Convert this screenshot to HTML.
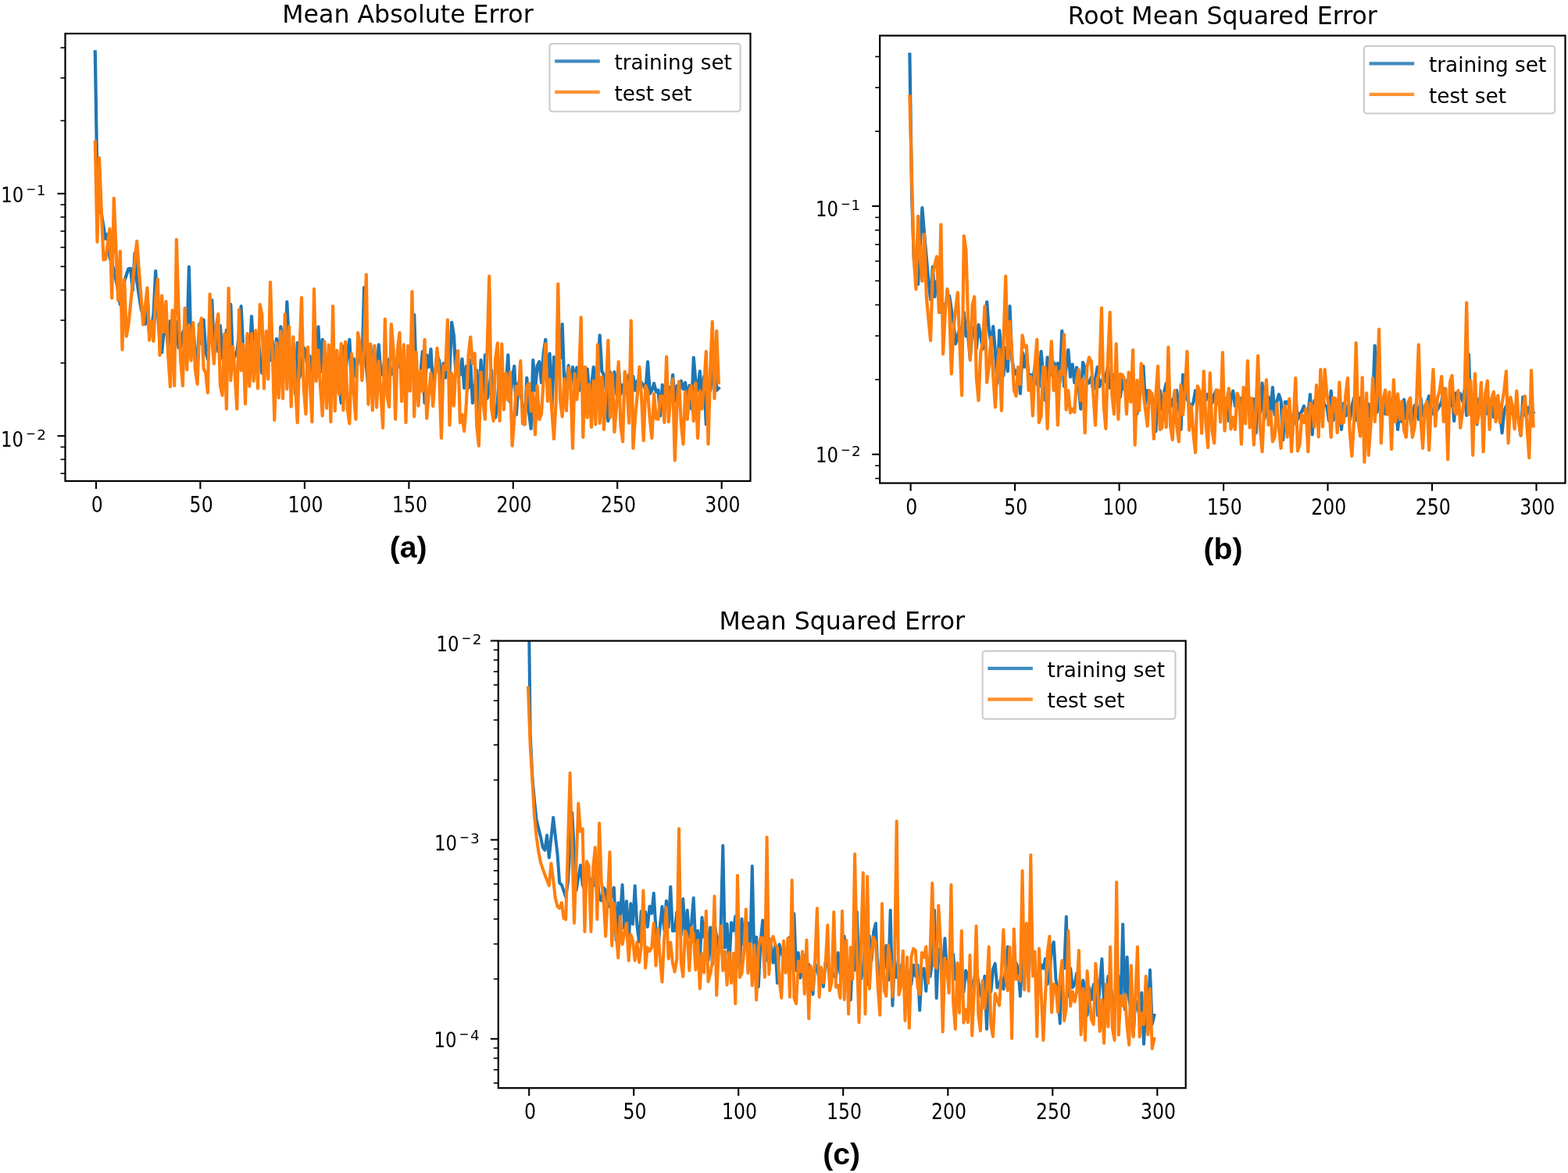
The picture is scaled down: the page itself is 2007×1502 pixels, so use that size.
<!DOCTYPE html>
<html><head><meta charset="utf-8"><title>Training curves</title>
<style>html,body{margin:0;padding:0;background:#fff;} body{width:2007px;height:1502px;overflow:hidden;} svg{display:block;}</style>
</head><body>
<svg width="2007" height="1502" viewBox="0 0 2007 1502">
<rect width="2007" height="1502" fill="#fff"/>
<clipPath id="clipa"><rect x="83.5" y="43.0" width="877.0" height="573.0"/></clipPath>
<g clip-path="url(#clipa)" fill="none" stroke-linejoin="round" stroke-linecap="square" stroke-width="4.2">
<path d="M121.8,66.3 L124.5,236.0 L127.1,262.0 L129.8,273.8 L132.5,290.0 L135.1,305.8 L137.8,300.0 L140.5,330.0 L143.2,337.5 L145.8,345.0 L148.5,358.5 L151.2,372.0 L153.8,390.0 L156.5,380.0 L159.2,360.0 L161.8,352.0 L164.5,344.0 L167.2,343.9 L169.8,372.0 L172.5,324.1 L175.2,360.0 L177.8,377.5 L180.5,395.0 L183.2,405.0 L185.9,415.0 L188.5,375.9 L191.2,430.0 L193.9,420.0 L196.5,402.1 L199.2,347.1 L201.9,400.0 L204.5,436.6 L207.2,451.3 L209.9,420.9 L212.5,418.4 L215.2,445.0 L217.9,411.0 L220.6,442.0 L223.2,440.0 L225.9,412.3 L228.6,445.4 L231.2,445.0 L233.9,426.3 L236.6,420.0 L239.2,439.9 L241.9,341.7 L244.6,451.5 L247.2,420.0 L249.9,450.9 L252.6,468.8 L255.2,414.8 L257.9,440.0 L260.6,409.6 L263.3,450.1 L265.9,460.0 L268.6,415.3 L271.3,384.4 L273.9,451.8 L276.6,419.2 L279.3,450.0 L281.9,417.1 L284.6,455.3 L287.3,470.0 L289.9,422.7 L292.6,441.5 L295.3,389.9 L298.0,461.7 L300.6,455.6 L303.3,450.0 L306.0,428.2 L308.6,392.1 L311.3,446.9 L314.0,486.4 L316.6,430.9 L319.3,463.8 L322.0,405.2 L324.6,451.5 L327.3,460.0 L330.0,429.4 L332.7,454.6 L335.3,477.6 L338.0,465.7 L340.7,437.9 L343.3,440.0 L346.0,461.1 L348.7,436.5 L351.3,470.0 L354.0,433.9 L356.7,473.3 L359.3,418.4 L362.0,435.0 L364.7,479.7 L367.3,386.6 L370.0,441.2 L372.7,460.0 L375.4,448.6 L378.0,503.9 L380.7,438.9 L383.4,483.6 L386.0,470.0 L388.7,445.1 L391.4,450.0 L394.0,476.3 L396.7,456.1 L399.4,480.0 L402.0,461.1 L404.7,483.6 L407.4,418.4 L410.1,476.6 L412.7,434.8 L415.4,459.7 L418.1,484.3 L420.7,480.0 L423.4,452.4 L426.1,484.7 L428.7,470.0 L431.4,458.9 L434.1,491.6 L436.7,516.0 L439.4,443.5 L442.1,480.0 L444.7,452.7 L447.4,434.8 L450.1,492.9 L452.8,459.5 L455.4,482.1 L458.1,460.0 L460.8,443.7 L463.4,468.8 L466.1,368.0 L468.8,465.9 L471.4,498.4 L474.1,440.8 L476.8,470.0 L479.4,453.0 L482.1,472.5 L484.8,441.4 L487.5,479.6 L490.1,480.0 L492.8,456.0 L495.5,481.8 L498.1,460.0 L500.8,479.0 L503.5,473.2 L506.1,490.0 L508.8,455.4 L511.5,470.0 L514.1,453.1 L516.8,480.8 L519.5,480.0 L522.1,462.6 L524.8,489.0 L527.5,470.6 L530.2,403.0 L532.8,484.3 L535.5,505.0 L538.2,480.5 L540.8,450.0 L543.5,516.0 L546.2,454.6 L548.8,470.0 L551.5,447.0 L554.2,494.8 L556.8,480.0 L559.5,455.1 L562.2,461.8 L564.9,490.0 L567.5,465.4 L570.2,483.7 L572.9,460.0 L575.5,477.2 L578.2,412.9 L580.9,429.4 L583.5,478.1 L586.2,467.4 L588.9,480.0 L591.5,459.5 L594.2,496.9 L596.9,468.8 L599.6,496.9 L602.2,461.1 L604.9,516.0 L607.6,496.5 L610.2,474.1 L612.9,528.0 L615.6,461.2 L618.2,518.0 L620.9,454.6 L623.6,510.0 L626.2,500.0 L628.9,473.8 L631.6,515.2 L634.2,534.6 L636.9,513.7 L639.6,472.2 L642.3,480.0 L644.9,509.2 L647.6,492.7 L650.3,454.6 L652.9,514.3 L655.6,483.9 L658.3,468.8 L660.9,530.9 L663.6,490.0 L666.3,500.0 L668.9,521.9 L671.6,543.4 L674.3,483.8 L677.0,527.2 L679.6,548.8 L682.3,461.2 L685.0,500.0 L687.6,468.7 L690.3,463.1 L693.0,490.0 L695.6,452.9 L698.3,434.8 L701.0,492.0 L703.6,452.8 L706.3,523.6 L709.0,457.0 L711.6,480.0 L714.3,463.6 L717.0,458.6 L719.7,415.1 L722.3,491.9 L725.0,490.0 L727.7,468.1 L730.3,494.9 L733.0,470.0 L735.7,487.6 L738.3,470.6 L741.0,500.0 L743.7,460.5 L746.3,488.9 L749.0,480.0 L751.7,472.4 L754.4,504.9 L757.0,495.1 L759.7,470.0 L762.4,497.1 L765.0,473.7 L767.7,429.4 L770.4,475.4 L773.0,480.0 L775.7,498.8 L778.4,539.0 L781.0,476.4 L783.7,490.0 L786.4,476.4 L789.0,504.5 L791.7,470.0 L794.4,504.9 L797.1,493.0 L799.7,498.4 L802.4,488.3 L805.1,480.0 L807.7,493.9 L810.4,482.1 L813.1,500.0 L815.7,487.7 L818.4,486.5 L821.1,490.0 L823.7,493.1 L826.4,499.5 L829.1,463.3 L831.8,504.2 L834.4,500.0 L837.1,491.0 L839.8,501.6 L842.4,499.5 L845.1,532.4 L847.8,492.8 L850.4,507.2 L853.1,500.0 L855.8,495.6 L858.4,509.0 L861.1,480.0 L863.8,513.9 L866.5,494.0 L869.1,500.0 L871.8,487.8 L874.5,498.1 L877.1,490.0 L879.8,510.3 L882.5,493.6 L885.1,523.6 L887.8,457.9 L890.5,489.3 L893.1,500.0 L895.8,475.4 L898.5,509.2 L901.1,482.1 L903.8,543.4 L906.5,486.1 L909.2,500.0 L911.8,473.3 L914.5,442.5 L917.2,499.8 L919.8,497.3" stroke="#1f77b4"/>
<path d="M121.8,182.0 L124.5,309.8 L127.1,202.0 L129.8,270.0 L132.5,332.7 L135.1,331.7 L137.8,312.2 L140.5,292.8 L143.2,381.7 L145.8,253.9 L148.5,319.3 L151.2,384.7 L153.8,321.8 L156.5,447.6 L159.2,357.7 L161.8,430.6 L164.5,415.6 L167.2,388.9 L169.8,362.2 L172.5,335.5 L175.2,308.8 L177.8,344.4 L180.5,380.0 L183.2,415.6 L185.9,392.1 L188.5,368.7 L191.2,435.6 L193.9,411.6 L196.5,437.0 L199.2,383.4 L201.9,357.7 L204.5,455.0 L207.2,378.5 L209.9,425.2 L212.5,386.2 L215.2,454.8 L217.9,495.1 L220.6,397.4 L223.2,494.0 L225.9,306.8 L228.6,399.4 L231.2,461.7 L233.9,494.0 L236.6,394.7 L239.2,473.5 L241.9,416.2 L244.6,461.7 L247.2,413.0 L249.9,473.0 L252.6,491.8 L255.2,420.3 L257.9,407.4 L260.6,472.1 L263.3,477.7 L265.9,502.8 L268.6,376.7 L271.3,436.7 L273.9,465.7 L276.6,418.6 L279.3,402.0 L281.9,493.9 L284.6,506.2 L287.3,427.7 L289.9,523.6 L292.6,369.1 L295.3,487.2 L298.0,443.9 L300.6,477.0 L303.3,523.6 L306.0,396.5 L308.6,474.3 L311.3,440.8 L314.0,517.1 L316.6,427.1 L319.3,494.7 L322.0,427.3 L324.6,487.8 L327.3,423.2 L330.0,497.3 L332.7,389.9 L335.3,402.7 L338.0,497.4 L340.7,424.0 L343.3,485.5 L346.0,361.4 L348.7,448.9 L351.3,537.9 L354.0,439.1 L356.7,509.4 L359.3,424.0 L362.0,510.5 L364.7,402.0 L367.3,498.1 L370.0,418.0 L372.7,520.6 L375.4,431.3 L378.0,493.2 L380.7,541.2 L383.4,452.5 L386.0,381.1 L388.7,495.8 L391.4,530.2 L394.0,444.5 L396.7,487.6 L399.4,540.1 L402.0,370.2 L404.7,488.2 L407.4,448.4 L410.1,495.6 L412.7,532.4 L415.4,437.5 L418.1,522.6 L420.7,441.6 L423.4,540.1 L426.1,392.1 L428.7,526.2 L431.4,448.6 L434.1,505.0 L436.7,440.0 L439.4,525.3 L442.1,437.7 L444.7,523.9 L447.4,542.3 L450.1,453.0 L452.8,503.0 L455.4,536.8 L458.1,426.1 L460.8,441.7 L463.4,487.2 L466.1,446.3 L468.8,351.5 L471.4,517.8 L474.1,440.7 L476.8,525.5 L479.4,442.6 L482.1,521.7 L484.8,462.6 L487.5,504.0 L490.1,547.8 L492.8,408.5 L495.5,508.2 L498.1,521.2 L500.8,415.1 L503.5,446.6 L506.1,536.8 L508.8,448.4 L511.5,426.0 L514.1,513.9 L516.8,441.4 L519.5,541.2 L522.1,442.5 L524.8,500.7 L527.5,373.4 L530.2,533.5 L532.8,451.1 L535.5,519.6 L538.2,474.6 L540.8,501.2 L543.5,434.8 L546.2,535.7 L548.8,504.2 L551.5,477.5 L554.2,520.1 L556.8,482.8 L559.5,445.8 L562.2,480.5 L564.9,561.0 L567.5,468.6 L570.2,473.3 L572.9,409.6 L575.5,544.5 L578.2,478.2 L580.9,519.5 L583.5,468.1 L586.2,449.1 L588.9,541.3 L591.5,530.9 L594.2,552.1 L596.9,516.6 L599.6,455.2 L602.2,431.5 L604.9,465.3 L607.6,452.4 L610.2,545.2 L612.9,570.8 L615.6,476.5 L618.2,514.5 L620.9,536.8 L623.6,447.8 L626.2,353.7 L628.9,520.9 L631.6,539.0 L634.2,459.1 L636.9,439.4 L639.6,539.0 L642.3,440.3 L644.9,524.6 L647.6,478.0 L650.3,512.3 L652.9,476.6 L655.6,570.8 L658.3,535.6 L660.9,494.7 L663.6,504.8 L666.3,462.2 L668.9,542.4 L671.6,543.4 L674.3,495.3 L677.0,490.7 L679.6,526.5 L682.3,503.1 L685.0,556.5 L687.6,494.0 L690.3,537.2 L693.0,530.2 L695.6,488.2 L698.3,440.3 L701.0,513.6 L703.6,486.0 L706.3,525.3 L709.0,562.0 L711.6,515.0 L714.3,363.6 L717.0,511.6 L719.7,533.5 L722.3,484.9 L725.0,526.0 L727.7,471.0 L730.3,486.1 L733.0,574.0 L735.7,478.7 L738.3,511.7 L741.0,483.5 L743.7,406.3 L746.3,559.8 L749.0,469.9 L751.7,534.6 L754.4,492.0 L757.0,546.8 L759.7,487.9 L762.4,543.4 L765.0,441.4 L767.7,542.0 L770.4,482.5 L773.0,550.0 L775.7,498.9 L778.4,435.9 L781.0,534.7 L783.7,479.3 L786.4,553.2 L789.0,522.0 L791.7,463.3 L794.4,544.2 L797.1,565.3 L799.7,475.9 L802.4,492.0 L805.1,541.7 L807.7,410.7 L810.4,574.0 L813.1,533.9 L815.7,506.5 L818.4,469.9 L821.1,508.9 L823.7,564.2 L826.4,494.2 L829.1,501.7 L831.8,536.6 L834.4,561.0 L837.1,504.4 L839.8,536.1 L842.4,536.8 L845.1,507.1 L847.8,507.4 L850.4,540.9 L853.1,456.8 L855.8,540.1 L858.4,505.6 L861.1,485.3 L863.8,589.4 L866.5,516.4 L869.1,488.6 L871.8,542.1 L874.5,568.6 L877.1,501.6 L879.8,536.9 L882.5,499.1 L885.1,494.0 L887.8,539.1 L890.5,490.6 L893.1,561.0 L895.8,500.7 L898.5,523.6 L901.1,495.8 L903.8,450.2 L906.5,568.6 L909.2,472.4 L911.8,411.8 L914.5,510.5 L917.2,423.9 L919.8,490.0" stroke="#ff7f0e"/>
</g>
<rect x="83.5" y="43.0" width="877.0" height="573.0" fill="none" stroke="#000" stroke-width="2.2" stroke-linejoin="miter"/>
<line x1="123.0" y1="616.0" x2="123.0" y2="626.0" stroke="#000" stroke-width="2.1"/>
<text transform="translate(124.20,656.20) scale(0.86,1)" x="0" y="0" font-family="'DejaVu Sans', 'Liberation Sans', sans-serif" font-size="27.5" text-anchor="middle">0</text>
<line x1="256.4" y1="616.0" x2="256.4" y2="626.0" stroke="#000" stroke-width="2.1"/>
<text transform="translate(257.65,656.20) scale(0.86,1)" x="0" y="0" font-family="'DejaVu Sans', 'Liberation Sans', sans-serif" font-size="27.5" text-anchor="middle">50</text>
<line x1="389.9" y1="616.0" x2="389.9" y2="626.0" stroke="#000" stroke-width="2.1"/>
<text transform="translate(391.10,656.20) scale(0.86,1)" x="0" y="0" font-family="'DejaVu Sans', 'Liberation Sans', sans-serif" font-size="27.5" text-anchor="middle">100</text>
<line x1="523.4" y1="616.0" x2="523.4" y2="626.0" stroke="#000" stroke-width="2.1"/>
<text transform="translate(524.55,656.20) scale(0.86,1)" x="0" y="0" font-family="'DejaVu Sans', 'Liberation Sans', sans-serif" font-size="27.5" text-anchor="middle">150</text>
<line x1="656.8" y1="616.0" x2="656.8" y2="626.0" stroke="#000" stroke-width="2.1"/>
<text transform="translate(658.00,656.20) scale(0.86,1)" x="0" y="0" font-family="'DejaVu Sans', 'Liberation Sans', sans-serif" font-size="27.5" text-anchor="middle">200</text>
<line x1="790.2" y1="616.0" x2="790.2" y2="626.0" stroke="#000" stroke-width="2.1"/>
<text transform="translate(791.45,656.20) scale(0.86,1)" x="0" y="0" font-family="'DejaVu Sans', 'Liberation Sans', sans-serif" font-size="27.5" text-anchor="middle">250</text>
<line x1="923.7" y1="616.0" x2="923.7" y2="626.0" stroke="#000" stroke-width="2.1"/>
<text transform="translate(924.90,656.20) scale(0.86,1)" x="0" y="0" font-family="'DejaVu Sans', 'Liberation Sans', sans-serif" font-size="27.5" text-anchor="middle">300</text>
<line x1="83.5" y1="606.3" x2="77.5" y2="606.3" stroke="#000" stroke-width="1.6"/>
<line x1="83.5" y1="588.3" x2="77.5" y2="588.3" stroke="#000" stroke-width="1.6"/>
<line x1="83.5" y1="572.4" x2="77.5" y2="572.4" stroke="#000" stroke-width="1.6"/>
<line x1="83.5" y1="558.2" x2="73.5" y2="558.2" stroke="#000" stroke-width="2.1"/>
<text transform="translate(1.10,571.70) scale(0.868,1)" x="0" y="0" font-family="'DejaVu Sans', 'Liberation Sans', sans-serif" font-size="26.3">10</text>
<text transform="translate(33.10,561.20) scale(0.87,1)" x="0" y="0" font-family="'DejaVu Sans', 'Liberation Sans', sans-serif" font-size="17.5">−</text>
<text transform="translate(47.26,562.90) scale(1.05,1)" x="0" y="0" font-family="'DejaVu Sans', 'Liberation Sans', sans-serif" font-size="17.5">2</text>
<line x1="83.5" y1="464.8" x2="77.5" y2="464.8" stroke="#000" stroke-width="1.6"/>
<line x1="83.5" y1="410.1" x2="77.5" y2="410.1" stroke="#000" stroke-width="1.6"/>
<line x1="83.5" y1="371.4" x2="77.5" y2="371.4" stroke="#000" stroke-width="1.6"/>
<line x1="83.5" y1="341.3" x2="77.5" y2="341.3" stroke="#000" stroke-width="1.6"/>
<line x1="83.5" y1="316.7" x2="77.5" y2="316.7" stroke="#000" stroke-width="1.6"/>
<line x1="83.5" y1="296.0" x2="77.5" y2="296.0" stroke="#000" stroke-width="1.6"/>
<line x1="83.5" y1="278.0" x2="77.5" y2="278.0" stroke="#000" stroke-width="1.6"/>
<line x1="83.5" y1="262.1" x2="77.5" y2="262.1" stroke="#000" stroke-width="1.6"/>
<line x1="83.5" y1="247.9" x2="73.5" y2="247.9" stroke="#000" stroke-width="2.1"/>
<text transform="translate(1.20,258.80) scale(0.868,1)" x="0" y="0" font-family="'DejaVu Sans', 'Liberation Sans', sans-serif" font-size="26.3">10</text>
<text transform="translate(33.20,248.30) scale(0.87,1)" x="0" y="0" font-family="'DejaVu Sans', 'Liberation Sans', sans-serif" font-size="17.5">−</text>
<text transform="translate(46.68,250.00) scale(1.05,1)" x="0" y="0" font-family="'DejaVu Sans', 'Liberation Sans', sans-serif" font-size="17.5">1</text>
<line x1="83.5" y1="154.5" x2="77.5" y2="154.5" stroke="#000" stroke-width="1.6"/>
<line x1="83.5" y1="99.8" x2="77.5" y2="99.8" stroke="#000" stroke-width="1.6"/>
<line x1="83.5" y1="61.1" x2="77.5" y2="61.1" stroke="#000" stroke-width="1.6"/>
<text x="522.0" y="28.7" font-family="'DejaVu Sans', 'Liberation Sans', sans-serif" font-size="31.6" text-anchor="middle">Mean Absolute Error</text>
<rect x="703.5" y="56" width="244.1" height="86.8" rx="3.5" fill="#fff" fill-opacity="0.8" stroke="#ccc" stroke-width="2.1"/>
<line x1="710.2" y1="78.3" x2="767.8" y2="78.3" stroke="#1f77b4" stroke-width="4.3" stroke-opacity="0.85"/>
<text x="786.5" y="89.0" font-family="'DejaVu Sans', 'Liberation Sans', sans-serif" font-size="26.3">training set</text>
<line x1="710.2" y1="117.9" x2="767.8" y2="117.9" stroke="#ff7f0e" stroke-width="4.3" stroke-opacity="0.85"/>
<text x="786.5" y="128.6" font-family="'DejaVu Sans', 'Liberation Sans', sans-serif" font-size="26.3">test set</text>
<text x="522.6" y="713.5" font-family="'Liberation Sans', Arial, sans-serif" font-weight="bold" font-size="39.2" text-anchor="middle">(a)</text>
<clipPath id="clipb"><rect x="1126.2" y="45.6" width="877.3" height="573.0"/></clipPath>
<g clip-path="url(#clipb)" fill="none" stroke-linejoin="round" stroke-linecap="square" stroke-width="4.2">
<path d="M1164.4,69.6 L1167.1,250.0 L1169.7,330.0 L1172.4,355.0 L1175.1,364.0 L1177.7,315.1 L1180.4,266.1 L1183.1,300.0 L1185.8,330.0 L1188.4,360.0 L1191.1,383.5 L1193.8,341.7 L1196.4,380.0 L1199.1,360.0 L1201.8,380.0 L1204.4,400.0 L1207.1,395.0 L1209.8,390.0 L1212.5,384.4 L1215.1,378.9 L1217.8,396.4 L1220.5,414.0 L1223.1,440.3 L1225.8,430.1 L1228.5,420.0 L1231.1,423.0 L1233.8,400.0 L1236.5,430.4 L1239.2,430.0 L1241.8,460.0 L1244.5,419.4 L1247.2,420.0 L1249.8,446.6 L1252.5,415.9 L1255.2,430.0 L1257.8,446.8 L1260.5,426.9 L1263.2,386.6 L1265.8,422.9 L1268.5,440.0 L1271.2,418.0 L1273.9,450.1 L1276.5,490.7 L1279.2,423.0 L1281.9,450.0 L1284.5,480.8 L1287.2,445.4 L1289.9,475.3 L1292.5,392.1 L1295.2,460.0 L1297.9,474.1 L1300.6,479.3 L1303.2,471.0 L1305.9,503.9 L1308.6,450.9 L1311.2,470.0 L1313.9,451.3 L1316.6,481.3 L1319.2,480.0 L1321.9,487.2 L1324.6,470.0 L1327.3,491.6 L1329.9,495.2 L1332.6,450.2 L1335.3,480.3 L1337.9,512.7 L1340.6,457.5 L1343.3,472.5 L1345.9,480.0 L1348.6,464.0 L1351.3,470.0 L1353.9,465.1 L1356.6,489.5 L1359.3,423.9 L1362.0,494.7 L1364.6,470.0 L1367.3,448.0 L1370.0,482.7 L1372.6,466.5 L1375.3,490.0 L1378.0,470.6 L1380.6,493.4 L1383.3,523.6 L1386.0,464.1 L1388.7,471.0 L1391.3,491.3 L1394.0,490.0 L1396.7,483.2 L1399.3,500.0 L1402.0,485.5 L1404.7,470.0 L1407.3,495.1 L1410.0,487.5 L1412.7,490.0 L1415.4,481.2 L1418.0,470.0 L1420.7,496.6 L1423.4,484.4 L1426.0,480.0 L1428.7,498.0 L1431.4,488.1 L1434.0,508.3 L1436.7,485.3 L1439.4,499.0 L1442.0,487.7 L1444.7,500.0 L1447.4,493.1 L1450.1,490.0 L1452.7,509.5 L1455.4,530.2 L1458.1,490.0 L1460.7,491.3 L1463.4,468.8 L1466.1,516.9 L1468.7,500.0 L1471.4,515.9 L1474.1,503.9 L1476.8,525.4 L1479.4,552.1 L1482.1,498.5 L1484.8,500.0 L1487.4,524.8 L1490.1,501.9 L1492.8,490.7 L1495.4,527.3 L1498.1,511.3 L1500.8,520.0 L1503.5,502.6 L1506.1,500.0 L1508.8,519.0 L1511.5,550.0 L1514.1,479.8 L1516.8,502.2 L1519.5,510.0 L1522.1,517.2 L1524.8,521.4 L1527.5,515.2 L1530.1,500.0 L1532.8,506.3 L1535.5,512.7 L1538.2,504.2 L1540.8,500.0 L1543.5,512.3 L1546.2,504.6 L1548.8,510.0 L1551.5,516.1 L1554.2,505.2 L1556.8,500.0 L1559.5,517.0 L1562.2,506.7 L1564.9,510.0 L1567.5,519.6 L1570.2,509.7 L1572.9,539.0 L1575.5,509.1 L1578.2,500.6 L1580.9,520.0 L1583.5,518.0 L1586.2,518.0 L1588.9,510.0 L1591.6,526.1 L1594.2,516.3 L1596.9,520.0 L1599.6,510.5 L1602.2,521.9 L1604.9,511.1 L1607.6,554.3 L1610.2,509.9 L1612.9,528.8 L1615.6,490.7 L1618.2,536.4 L1620.9,520.0 L1623.6,508.2 L1626.3,530.6 L1628.9,496.2 L1631.6,531.1 L1634.3,514.4 L1636.9,505.0 L1639.6,513.4 L1642.3,563.1 L1644.9,514.7 L1647.6,514.5 L1650.3,520.0 L1653.0,543.2 L1655.6,543.7 L1658.3,510.0 L1661.0,537.3 L1663.6,530.0 L1666.3,527.0 L1669.0,520.0 L1671.6,529.4 L1674.3,531.2 L1677.0,505.0 L1679.7,556.5 L1682.3,513.2 L1685.0,520.0 L1687.7,527.1 L1690.3,516.5 L1693.0,510.0 L1695.7,519.3 L1698.3,520.0 L1701.0,538.6 L1703.7,500.6 L1706.3,538.4 L1709.0,530.0 L1711.7,527.6 L1714.4,519.1 L1717.0,550.0 L1719.7,516.5 L1722.4,532.5 L1725.0,520.0 L1727.7,537.9 L1730.4,520.2 L1733.0,510.0 L1735.7,537.8 L1738.4,530.0 L1741.1,509.8 L1743.7,507.2 L1746.4,531.7 L1749.1,566.4 L1751.7,517.3 L1754.4,530.0 L1757.1,514.9 L1759.7,442.5 L1762.4,527.8 L1765.1,500.0 L1767.8,539.4 L1770.4,509.8 L1773.1,530.0 L1775.8,516.5 L1778.4,520.0 L1781.1,511.7 L1783.8,540.0 L1786.4,514.0 L1789.1,550.0 L1791.8,522.9 L1794.4,540.2 L1797.1,511.6 L1799.8,536.1 L1802.5,520.7 L1805.1,533.9 L1807.8,552.1 L1810.5,519.3 L1813.1,520.0 L1815.8,537.0 L1818.5,510.0 L1821.1,531.8 L1823.8,530.0 L1826.5,515.3 L1829.2,507.2 L1831.8,526.7 L1834.5,530.0 L1837.2,513.8 L1839.8,524.7 L1842.5,520.0 L1845.2,514.8 L1847.8,497.3 L1850.5,511.2 L1853.2,522.7 L1855.9,520.0 L1858.5,502.4 L1861.2,539.0 L1863.9,503.1 L1866.5,510.0 L1869.2,504.2 L1871.9,513.8 L1874.5,500.0 L1877.2,531.8 L1879.9,453.5 L1882.5,530.4 L1885.2,510.0 L1887.9,526.3 L1890.6,543.4 L1893.2,510.6 L1895.9,520.0 L1898.6,515.8 L1901.2,511.4 L1903.9,530.0 L1906.6,516.6 L1909.2,520.0 L1911.9,534.2 L1914.6,510.5 L1917.3,534.0 L1919.9,527.7 L1922.6,554.3 L1925.3,525.9 L1927.9,520.0 L1930.6,531.8 L1933.3,530.0 L1935.9,523.6 L1938.6,536.1 L1941.3,520.0 L1944.0,537.3 L1946.6,557.6 L1949.3,508.3 L1952.0,531.8 L1954.6,530.0 L1957.3,521.1 L1960.0,520.0 L1962.6,528.0" stroke="#1f77b4"/>
<path d="M1164.4,123.5 L1167.1,230.0 L1169.7,330.0 L1172.4,370.3 L1175.1,276.9 L1177.7,330.0 L1180.4,360.0 L1183.1,300.0 L1185.8,380.0 L1188.4,408.0 L1191.1,436.0 L1193.8,350.0 L1196.4,339.2 L1199.1,328.5 L1201.8,400.0 L1204.4,287.7 L1207.1,453.5 L1209.8,400.0 L1212.5,370.0 L1215.1,389.9 L1217.8,478.7 L1220.5,420.0 L1223.1,397.2 L1225.8,374.5 L1228.5,440.3 L1231.1,506.1 L1233.8,302.2 L1236.5,320.8 L1239.2,413.0 L1241.8,461.2 L1244.5,391.9 L1247.2,380.0 L1249.8,483.9 L1252.5,512.7 L1255.2,451.3 L1257.8,438.5 L1260.5,392.1 L1263.2,489.8 L1265.8,470.0 L1268.5,431.9 L1271.2,480.3 L1273.9,521.4 L1276.5,470.0 L1279.2,447.0 L1281.9,525.8 L1284.5,437.5 L1287.2,353.7 L1289.9,459.1 L1292.5,411.8 L1295.2,450.6 L1297.9,499.5 L1300.6,507.2 L1303.2,470.0 L1305.9,491.9 L1308.6,429.4 L1311.2,444.5 L1313.9,442.5 L1316.6,500.0 L1319.2,482.4 L1321.9,532.4 L1324.6,467.5 L1327.3,434.8 L1329.9,541.2 L1332.6,533.2 L1335.3,469.9 L1337.9,471.2 L1340.6,548.8 L1343.3,476.5 L1345.9,437.0 L1348.6,500.0 L1351.3,469.9 L1353.9,544.5 L1356.6,475.3 L1359.3,480.0 L1362.0,428.3 L1364.6,524.7 L1367.3,500.0 L1370.0,528.6 L1372.6,523.6 L1375.3,527.9 L1378.0,487.0 L1380.6,473.2 L1383.3,513.1 L1386.0,485.4 L1388.7,554.3 L1391.3,470.8 L1394.0,457.6 L1396.7,462.2 L1399.3,503.7 L1402.0,544.5 L1404.7,484.9 L1407.3,477.4 L1410.0,394.3 L1412.7,518.8 L1415.4,548.8 L1418.0,461.9 L1420.7,399.8 L1423.4,505.6 L1426.0,530.2 L1428.7,440.3 L1431.4,536.8 L1434.0,478.9 L1436.7,480.0 L1439.4,486.5 L1442.0,530.2 L1444.7,476.5 L1447.4,514.6 L1450.1,448.0 L1452.7,569.7 L1455.4,486.8 L1458.1,526.0 L1460.7,465.5 L1463.4,503.4 L1466.1,524.4 L1468.7,545.6 L1471.4,500.0 L1474.1,504.2 L1476.8,562.0 L1479.4,507.5 L1482.1,468.8 L1484.8,550.2 L1487.4,547.8 L1490.1,503.5 L1492.8,547.0 L1495.4,444.7 L1498.1,545.4 L1500.8,563.1 L1503.5,500.0 L1506.1,544.1 L1508.8,565.3 L1511.5,492.9 L1514.1,531.2 L1516.8,498.2 L1519.5,450.2 L1522.1,551.0 L1524.8,520.0 L1527.5,555.9 L1530.1,579.5 L1532.8,494.4 L1535.5,500.0 L1538.2,554.8 L1540.8,475.4 L1543.5,542.1 L1546.2,573.0 L1548.8,477.6 L1551.5,551.8 L1554.2,567.5 L1556.8,499.4 L1559.5,500.0 L1562.2,540.3 L1564.9,451.3 L1567.5,551.5 L1570.2,513.4 L1572.9,497.3 L1575.5,549.4 L1578.2,534.4 L1580.9,550.0 L1583.5,503.6 L1586.2,510.0 L1588.9,568.6 L1591.6,496.1 L1594.2,542.5 L1596.9,462.2 L1599.6,547.6 L1602.2,510.0 L1604.9,569.7 L1607.6,524.4 L1610.2,455.7 L1612.9,548.8 L1615.6,578.4 L1618.2,520.3 L1620.9,486.4 L1623.6,544.2 L1626.3,526.9 L1628.9,565.3 L1631.6,559.7 L1634.3,517.0 L1636.9,548.0 L1639.6,574.0 L1642.3,527.2 L1644.9,520.0 L1647.6,559.7 L1650.3,510.5 L1653.0,578.4 L1655.6,536.8 L1658.3,484.2 L1661.0,577.4 L1663.6,568.9 L1666.3,531.4 L1669.0,541.2 L1671.6,523.5 L1674.3,578.4 L1677.0,516.4 L1679.7,520.0 L1682.3,546.8 L1685.0,493.0 L1687.7,559.5 L1690.3,473.2 L1693.0,546.4 L1695.7,473.2 L1698.3,505.0 L1701.0,520.0 L1703.7,559.8 L1706.3,509.2 L1709.0,510.0 L1711.7,554.2 L1714.4,489.7 L1717.0,541.9 L1719.7,541.2 L1722.4,505.5 L1725.0,484.2 L1727.7,553.3 L1730.4,584.0 L1733.0,539.6 L1735.7,439.2 L1738.4,539.3 L1741.1,558.7 L1743.7,483.4 L1746.4,591.6 L1749.1,503.4 L1751.7,582.8 L1754.4,545.7 L1757.1,484.2 L1759.7,540.0 L1762.4,504.3 L1765.1,421.7 L1767.8,567.5 L1770.4,511.0 L1773.1,499.5 L1775.8,530.9 L1778.4,502.0 L1781.1,575.2 L1783.8,486.4 L1786.4,539.8 L1789.1,504.3 L1791.8,536.8 L1794.4,513.9 L1797.1,550.6 L1799.8,559.8 L1802.5,514.7 L1805.1,509.4 L1807.8,559.9 L1810.5,547.8 L1813.1,512.8 L1815.8,441.4 L1818.5,537.4 L1821.1,574.0 L1823.8,520.0 L1826.5,514.4 L1829.2,576.3 L1831.8,517.0 L1834.5,473.2 L1837.2,545.6 L1839.8,510.1 L1842.5,501.3 L1845.2,482.0 L1847.8,540.0 L1850.5,497.6 L1853.2,588.3 L1855.9,489.8 L1858.5,480.9 L1861.2,525.9 L1863.9,530.2 L1866.5,500.0 L1869.2,547.8 L1871.9,528.0 L1874.5,508.8 L1877.2,387.7 L1879.9,530.7 L1882.5,487.4 L1885.2,582.8 L1887.9,478.7 L1890.6,541.8 L1893.2,530.0 L1895.9,489.9 L1898.6,578.4 L1901.2,504.3 L1903.9,487.5 L1906.6,549.9 L1909.2,510.3 L1911.9,501.7 L1914.6,540.0 L1917.3,506.5 L1919.9,541.2 L1922.6,515.9 L1925.3,500.0 L1927.9,475.4 L1930.6,567.5 L1933.3,508.6 L1935.9,520.0 L1938.6,549.2 L1941.3,500.6 L1944.0,542.1 L1946.6,557.6 L1949.3,523.6 L1952.0,507.2 L1954.6,547.6 L1957.3,586.1 L1960.0,474.3 L1962.6,545.6" stroke="#ff7f0e"/>
</g>
<rect x="1126.2" y="45.6" width="877.3" height="573.0" fill="none" stroke="#000" stroke-width="2.2" stroke-linejoin="miter"/>
<line x1="1165.6" y1="618.6" x2="1165.6" y2="628.6" stroke="#000" stroke-width="2.1"/>
<text transform="translate(1166.80,658.80) scale(0.86,1)" x="0" y="0" font-family="'DejaVu Sans', 'Liberation Sans', sans-serif" font-size="27.5" text-anchor="middle">0</text>
<line x1="1299.1" y1="618.6" x2="1299.1" y2="628.6" stroke="#000" stroke-width="2.1"/>
<text transform="translate(1300.29,658.80) scale(0.86,1)" x="0" y="0" font-family="'DejaVu Sans', 'Liberation Sans', sans-serif" font-size="27.5" text-anchor="middle">50</text>
<line x1="1432.6" y1="618.6" x2="1432.6" y2="628.6" stroke="#000" stroke-width="2.1"/>
<text transform="translate(1433.77,658.80) scale(0.86,1)" x="0" y="0" font-family="'DejaVu Sans', 'Liberation Sans', sans-serif" font-size="27.5" text-anchor="middle">100</text>
<line x1="1566.1" y1="618.6" x2="1566.1" y2="628.6" stroke="#000" stroke-width="2.1"/>
<text transform="translate(1567.25,658.80) scale(0.86,1)" x="0" y="0" font-family="'DejaVu Sans', 'Liberation Sans', sans-serif" font-size="27.5" text-anchor="middle">150</text>
<line x1="1699.5" y1="618.6" x2="1699.5" y2="628.6" stroke="#000" stroke-width="2.1"/>
<text transform="translate(1700.74,658.80) scale(0.86,1)" x="0" y="0" font-family="'DejaVu Sans', 'Liberation Sans', sans-serif" font-size="27.5" text-anchor="middle">200</text>
<line x1="1833.0" y1="618.6" x2="1833.0" y2="628.6" stroke="#000" stroke-width="2.1"/>
<text transform="translate(1834.23,658.80) scale(0.86,1)" x="0" y="0" font-family="'DejaVu Sans', 'Liberation Sans', sans-serif" font-size="27.5" text-anchor="middle">250</text>
<line x1="1966.5" y1="618.6" x2="1966.5" y2="628.6" stroke="#000" stroke-width="2.1"/>
<text transform="translate(1967.71,658.80) scale(0.86,1)" x="0" y="0" font-family="'DejaVu Sans', 'Liberation Sans', sans-serif" font-size="27.5" text-anchor="middle">300</text>
<line x1="1126.2" y1="612.6" x2="1120.2" y2="612.6" stroke="#000" stroke-width="1.6"/>
<line x1="1126.2" y1="596.3" x2="1120.2" y2="596.3" stroke="#000" stroke-width="1.6"/>
<line x1="1126.2" y1="581.8" x2="1116.2" y2="581.8" stroke="#000" stroke-width="2.1"/>
<text transform="translate(1043.90,592.40) scale(0.868,1)" x="0" y="0" font-family="'DejaVu Sans', 'Liberation Sans', sans-serif" font-size="26.3">10</text>
<text transform="translate(1075.90,581.90) scale(0.87,1)" x="0" y="0" font-family="'DejaVu Sans', 'Liberation Sans', sans-serif" font-size="17.5">−</text>
<text transform="translate(1090.06,583.60) scale(1.05,1)" x="0" y="0" font-family="'DejaVu Sans', 'Liberation Sans', sans-serif" font-size="17.5">2</text>
<line x1="1126.2" y1="486.1" x2="1120.2" y2="486.1" stroke="#000" stroke-width="1.6"/>
<line x1="1126.2" y1="430.1" x2="1120.2" y2="430.1" stroke="#000" stroke-width="1.6"/>
<line x1="1126.2" y1="390.4" x2="1120.2" y2="390.4" stroke="#000" stroke-width="1.6"/>
<line x1="1126.2" y1="359.6" x2="1120.2" y2="359.6" stroke="#000" stroke-width="1.6"/>
<line x1="1126.2" y1="334.4" x2="1120.2" y2="334.4" stroke="#000" stroke-width="1.6"/>
<line x1="1126.2" y1="313.1" x2="1120.2" y2="313.1" stroke="#000" stroke-width="1.6"/>
<line x1="1126.2" y1="294.7" x2="1120.2" y2="294.7" stroke="#000" stroke-width="1.6"/>
<line x1="1126.2" y1="278.4" x2="1120.2" y2="278.4" stroke="#000" stroke-width="1.6"/>
<line x1="1126.2" y1="263.9" x2="1116.2" y2="263.9" stroke="#000" stroke-width="2.1"/>
<text transform="translate(1044.00,277.40) scale(0.868,1)" x="0" y="0" font-family="'DejaVu Sans', 'Liberation Sans', sans-serif" font-size="26.3">10</text>
<text transform="translate(1076.00,266.90) scale(0.87,1)" x="0" y="0" font-family="'DejaVu Sans', 'Liberation Sans', sans-serif" font-size="17.5">−</text>
<text transform="translate(1089.48,268.60) scale(1.05,1)" x="0" y="0" font-family="'DejaVu Sans', 'Liberation Sans', sans-serif" font-size="17.5">1</text>
<line x1="1126.2" y1="168.2" x2="1120.2" y2="168.2" stroke="#000" stroke-width="1.6"/>
<line x1="1126.2" y1="112.2" x2="1120.2" y2="112.2" stroke="#000" stroke-width="1.6"/>
<line x1="1126.2" y1="72.5" x2="1120.2" y2="72.5" stroke="#000" stroke-width="1.6"/>
<text x="1564.8" y="31.3" font-family="'DejaVu Sans', 'Liberation Sans', sans-serif" font-size="31.6" text-anchor="middle">Root Mean Squared Error</text>
<rect x="1745.9" y="59" width="244.3" height="86.2" rx="3.5" fill="#fff" fill-opacity="0.8" stroke="#ccc" stroke-width="2.1"/>
<line x1="1752.6" y1="81.3" x2="1810.2" y2="81.3" stroke="#1f77b4" stroke-width="4.3" stroke-opacity="0.85"/>
<text x="1828.9" y="92.0" font-family="'DejaVu Sans', 'Liberation Sans', sans-serif" font-size="26.3">training set</text>
<line x1="1752.6" y1="120.9" x2="1810.2" y2="120.9" stroke="#ff7f0e" stroke-width="4.3" stroke-opacity="0.85"/>
<text x="1828.9" y="131.6" font-family="'DejaVu Sans', 'Liberation Sans', sans-serif" font-size="26.3">test set</text>
<text x="1565.5" y="716.3" font-family="'Liberation Sans', Arial, sans-serif" font-weight="bold" font-size="39.2" text-anchor="middle">(b)</text>
<clipPath id="clipc"><rect x="637.8" y="820.6" width="879.9000000000001" height="572.6"/></clipPath>
<g clip-path="url(#clipc)" fill="none" stroke-linejoin="round" stroke-linecap="square" stroke-width="4.0">
<path d="M676.0,700.0 L678.7,940.0 L681.4,995.0 L684.0,1025.0 L686.7,1050.0 L689.4,1061.0 L692.1,1071.9 L694.8,1085.0 L697.4,1088.7 L700.1,1069.5 L702.8,1098.3 L705.5,1072.5 L708.2,1046.7 L710.8,1070.1 L713.5,1093.5 L716.2,1130.6 L718.9,1133.0 L721.6,1140.8 L724.2,1148.6 L726.9,1130.0 L729.6,1085.3 L732.3,1040.7 L735.0,1090.3 L737.6,1140.0 L740.3,1123.9 L743.0,1107.8 L745.7,1133.0 L748.4,1140.0 L751.0,1117.7 L753.7,1120.0 L756.4,1136.4 L759.1,1122.7 L761.8,1134.2 L764.4,1120.0 L767.1,1150.8 L769.8,1153.4 L772.5,1136.7 L775.2,1140.0 L777.9,1160.0 L780.5,1160.9 L783.2,1143.4 L785.9,1136.6 L788.6,1203.7 L791.3,1155.9 L793.9,1173.3 L796.6,1133.0 L799.3,1189.3 L802.0,1153.9 L804.7,1206.1 L807.3,1157.1 L810.0,1183.4 L812.7,1134.2 L815.4,1185.6 L818.1,1206.1 L820.7,1167.1 L823.4,1192.5 L826.1,1167.7 L828.8,1186.9 L831.5,1160.6 L834.1,1169.7 L836.8,1143.8 L839.5,1190.7 L842.2,1216.9 L844.9,1184.5 L847.5,1160.7 L850.2,1190.9 L852.9,1153.4 L855.6,1187.3 L858.3,1135.4 L860.9,1192.0 L863.6,1191.7 L866.3,1167.9 L869.0,1170.1 L871.7,1197.8 L874.3,1151.0 L877.0,1201.3 L879.7,1165.4 L882.4,1200.0 L885.1,1181.7 L887.7,1149.8 L890.4,1209.6 L893.1,1191.7 L895.8,1227.7 L898.5,1174.7 L901.1,1200.0 L903.8,1180.2 L906.5,1230.0 L909.2,1187.6 L911.9,1234.8 L914.5,1181.7 L917.2,1200.0 L919.9,1220.0 L922.6,1186.9 L925.3,1082.7 L927.9,1213.7 L930.6,1182.9 L933.3,1239.6 L936.0,1181.3 L938.7,1191.7 L941.3,1173.3 L944.0,1220.0 L946.7,1242.0 L949.4,1176.5 L952.1,1210.0 L954.8,1200.0 L957.4,1182.1 L960.1,1222.9 L962.8,1109.0 L965.5,1234.0 L968.2,1200.0 L970.8,1263.6 L973.5,1205.7 L976.2,1178.5 L978.9,1205.3 L981.6,1230.0 L984.2,1201.4 L986.9,1210.0 L989.6,1232.8 L992.3,1210.6 L995.0,1258.8 L997.6,1209.2 L1000.3,1220.0 L1003.0,1227.0 L1005.7,1240.0 L1008.4,1217.9 L1011.0,1200.0 L1013.7,1239.8 L1016.4,1170.1 L1019.1,1242.7 L1021.8,1220.0 L1024.4,1252.2 L1027.1,1239.6 L1029.8,1223.4 L1032.5,1250.0 L1035.2,1235.0 L1037.8,1252.4 L1040.5,1273.2 L1043.2,1233.7 L1045.9,1240.0 L1048.6,1254.4 L1051.2,1241.5 L1053.9,1263.6 L1056.6,1231.8 L1059.3,1230.0 L1062.0,1254.8 L1064.6,1241.9 L1067.3,1250.0 L1070.0,1251.4 L1072.7,1220.0 L1075.4,1246.8 L1078.0,1214.5 L1080.7,1198.9 L1083.4,1250.0 L1086.1,1250.8 L1088.8,1280.5 L1091.4,1221.8 L1094.1,1242.2 L1096.8,1167.8 L1099.5,1249.2 L1102.2,1253.3 L1104.8,1240.0 L1107.5,1207.6 L1110.2,1260.0 L1112.9,1198.5 L1115.6,1230.0 L1118.2,1193.1 L1120.9,1182.2 L1123.6,1248.9 L1126.3,1250.0 L1129.0,1212.5 L1131.7,1240.0 L1134.3,1210.8 L1137.0,1254.9 L1139.7,1165.4 L1142.4,1287.7 L1145.1,1227.5 L1147.7,1251.6 L1150.4,1250.0 L1153.1,1239.8 L1155.8,1230.0 L1158.5,1272.5 L1161.1,1238.6 L1163.8,1262.7 L1166.5,1260.0 L1169.2,1235.8 L1171.9,1250.0 L1174.5,1235.6 L1177.2,1293.7 L1179.9,1243.3 L1182.6,1240.0 L1185.3,1269.0 L1187.9,1230.0 L1190.6,1250.2 L1193.3,1230.8 L1196.0,1165.4 L1198.7,1278.1 L1201.3,1215.3 L1204.0,1230.0 L1206.7,1240.8 L1209.4,1201.4 L1212.1,1244.8 L1214.7,1240.0 L1217.4,1233.5 L1220.1,1222.0 L1222.8,1253.8 L1225.5,1239.6 L1228.1,1250.0 L1230.8,1248.0 L1233.5,1270.0 L1236.2,1242.7 L1238.9,1250.0 L1241.5,1268.7 L1244.2,1260.0 L1246.9,1254.1 L1249.6,1240.0 L1252.3,1257.5 L1254.9,1272.6 L1257.6,1280.0 L1260.3,1249.9 L1263.0,1317.7 L1265.7,1245.0 L1268.3,1270.0 L1271.0,1241.2 L1273.7,1233.8 L1276.4,1264.8 L1279.1,1260.0 L1281.7,1251.3 L1284.4,1266.5 L1287.1,1240.0 L1289.8,1212.2 L1292.5,1252.9 L1295.1,1229.0 L1297.8,1250.0 L1300.5,1232.7 L1303.2,1240.0 L1305.9,1275.7 L1308.6,1223.7 L1311.2,1230.0 L1313.9,1187.0 L1316.6,1227.6 L1319.3,1157.0 L1322.0,1249.1 L1324.6,1240.0 L1327.3,1254.7 L1330.0,1250.0 L1332.7,1235.5 L1335.4,1240.0 L1338.0,1227.6 L1340.7,1260.0 L1343.4,1246.6 L1346.1,1214.2 L1348.8,1206.2 L1351.4,1253.4 L1354.1,1270.0 L1356.8,1310.5 L1359.5,1232.4 L1362.2,1240.0 L1364.8,1173.8 L1367.5,1275.6 L1370.2,1240.0 L1372.9,1264.6 L1375.6,1260.0 L1378.2,1246.1 L1380.9,1250.0 L1383.6,1286.3 L1386.3,1255.3 L1389.0,1266.7 L1391.6,1300.0 L1394.3,1264.7 L1397.0,1280.0 L1399.7,1260.7 L1402.4,1260.0 L1405.0,1300.0 L1407.7,1261.7 L1410.4,1227.8 L1413.1,1286.3 L1415.8,1280.0 L1418.4,1250.0 L1421.1,1260.0 L1423.8,1277.1 L1426.5,1290.0 L1429.2,1256.7 L1431.8,1250.0 L1434.5,1286.3 L1437.2,1183.4 L1439.9,1292.8 L1442.6,1225.4 L1445.2,1280.0 L1447.9,1294.8 L1450.6,1326.1 L1453.3,1280.4 L1456.0,1290.0 L1458.6,1300.0 L1461.3,1271.3 L1464.0,1336.8 L1466.7,1290.0 L1469.4,1297.0 L1472.0,1242.1 L1474.7,1311.7 L1477.4,1300.0" stroke="#1f77b4"/>
<path d="M676.0,880.6 L678.7,955.0 L681.4,1000.0 L684.0,1045.0 L686.7,1072.0 L689.4,1091.0 L692.1,1105.0 L694.8,1112.6 L697.4,1120.0 L700.1,1127.0 L702.8,1134.0 L705.5,1105.4 L708.2,1127.0 L710.8,1150.0 L713.5,1160.6 L716.2,1163.0 L718.9,1155.8 L721.6,1176.0 L724.2,1177.3 L726.9,1083.5 L729.6,989.8 L732.3,1085.9 L735.0,1182.0 L737.6,1105.4 L740.3,1028.8 L743.0,1064.7 L745.7,1061.0 L748.4,1193.0 L751.0,1103.0 L753.7,1109.0 L756.4,1193.0 L759.1,1111.3 L761.8,1085.0 L764.4,1177.3 L767.1,1053.9 L769.8,1129.4 L772.5,1150.8 L775.2,1199.0 L777.9,1148.8 L780.5,1091.0 L783.2,1210.9 L785.9,1156.8 L788.6,1195.4 L791.3,1226.5 L793.9,1173.3 L796.6,1209.2 L799.3,1195.1 L802.0,1182.0 L804.7,1230.0 L807.3,1196.5 L810.0,1204.2 L812.7,1230.0 L815.4,1205.9 L818.1,1232.4 L820.7,1212.4 L823.4,1140.2 L826.1,1239.6 L828.8,1213.3 L831.5,1218.0 L834.1,1213.4 L836.8,1182.0 L839.5,1236.6 L842.2,1189.4 L844.9,1228.7 L847.5,1257.6 L850.2,1201.2 L852.9,1161.8 L855.6,1227.7 L858.3,1206.7 L860.9,1232.8 L863.6,1244.4 L866.3,1228.3 L869.0,1061.1 L871.7,1232.7 L874.3,1250.4 L877.0,1192.1 L879.7,1199.0 L882.4,1242.8 L885.1,1188.1 L887.7,1195.9 L890.4,1242.0 L893.1,1203.8 L895.8,1266.0 L898.5,1221.1 L901.1,1245.4 L903.8,1166.5 L906.5,1256.9 L909.2,1246.8 L911.9,1231.8 L914.5,1147.4 L917.2,1274.4 L919.9,1217.4 L922.6,1185.7 L925.3,1242.9 L927.9,1218.3 L930.6,1261.2 L933.3,1219.8 L936.0,1258.8 L938.7,1220.8 L941.3,1285.2 L944.0,1121.0 L946.7,1251.4 L949.4,1246.8 L952.1,1220.8 L954.8,1164.2 L957.4,1246.0 L960.1,1208.5 L962.8,1262.0 L965.5,1210.0 L968.2,1280.4 L970.8,1213.3 L973.5,1200.5 L976.2,1201.4 L978.9,1251.3 L981.6,1071.9 L984.2,1247.7 L986.9,1205.6 L989.6,1199.0 L992.3,1209.4 L995.0,1213.3 L997.6,1256.2 L1000.3,1278.0 L1003.0,1204.7 L1005.7,1245.8 L1008.4,1201.3 L1011.0,1276.7 L1013.7,1127.0 L1016.4,1277.7 L1019.1,1285.2 L1021.8,1230.7 L1024.4,1244.4 L1027.1,1218.2 L1029.8,1272.7 L1032.5,1203.7 L1035.2,1304.3 L1037.8,1237.1 L1040.5,1267.5 L1043.2,1228.6 L1045.9,1163.0 L1048.6,1276.8 L1051.2,1238.7 L1053.9,1258.6 L1056.6,1234.6 L1059.3,1184.5 L1062.0,1268.5 L1064.6,1257.6 L1067.3,1167.7 L1070.0,1263.9 L1072.7,1261.8 L1075.4,1278.0 L1078.0,1166.5 L1080.7,1279.9 L1083.4,1203.9 L1086.1,1298.5 L1088.8,1213.1 L1091.4,1253.9 L1094.1,1093.5 L1096.8,1223.2 L1099.5,1309.3 L1102.2,1203.7 L1104.8,1117.5 L1107.5,1298.5 L1110.2,1122.3 L1112.9,1266.1 L1115.6,1220.3 L1118.2,1200.0 L1120.9,1206.9 L1123.6,1263.3 L1126.3,1299.7 L1129.0,1157.0 L1131.7,1268.1 L1134.3,1275.7 L1137.0,1210.1 L1139.7,1230.0 L1142.4,1276.4 L1145.1,1224.5 L1147.7,1051.5 L1150.4,1273.9 L1153.1,1263.7 L1155.8,1217.4 L1158.5,1306.9 L1161.1,1225.5 L1163.8,1316.5 L1166.5,1224.9 L1169.2,1214.6 L1171.9,1217.1 L1174.5,1263.7 L1177.2,1273.3 L1179.9,1219.7 L1182.6,1225.8 L1185.3,1212.2 L1187.9,1259.0 L1190.6,1218.4 L1193.3,1130.7 L1196.0,1236.9 L1198.7,1239.7 L1201.3,1159.4 L1204.0,1208.3 L1206.7,1321.3 L1209.4,1227.1 L1212.1,1240.0 L1214.7,1271.5 L1217.4,1133.1 L1220.1,1283.7 L1222.8,1317.7 L1225.5,1232.9 L1228.1,1296.9 L1230.8,1191.8 L1233.5,1309.8 L1236.2,1292.5 L1238.9,1309.1 L1241.5,1223.0 L1244.2,1326.0 L1246.9,1268.5 L1249.6,1185.8 L1252.3,1300.3 L1254.9,1320.1 L1257.6,1255.8 L1260.3,1291.6 L1263.0,1266.0 L1265.7,1212.2 L1268.3,1312.1 L1271.0,1327.3 L1273.7,1272.2 L1276.4,1279.9 L1279.1,1287.7 L1281.7,1245.8 L1284.4,1190.6 L1287.1,1250.7 L1289.8,1268.5 L1292.5,1212.7 L1295.1,1329.7 L1297.8,1189.4 L1300.5,1253.9 L1303.2,1250.0 L1305.9,1256.3 L1308.6,1115.1 L1311.2,1267.5 L1313.9,1182.2 L1316.6,1269.0 L1319.3,1094.7 L1322.0,1250.0 L1324.6,1218.4 L1327.3,1327.3 L1330.0,1214.6 L1332.7,1271.5 L1335.4,1332.0 L1338.0,1274.4 L1340.7,1219.3 L1343.4,1199.0 L1346.1,1296.5 L1348.8,1260.0 L1351.4,1262.9 L1354.1,1296.1 L1356.8,1253.3 L1359.5,1230.0 L1362.2,1307.0 L1364.8,1291.5 L1367.5,1191.8 L1370.2,1288.2 L1372.9,1269.8 L1375.6,1282.9 L1378.2,1269.7 L1380.9,1217.0 L1383.6,1324.9 L1386.3,1266.0 L1389.0,1332.0 L1391.6,1243.3 L1394.3,1276.9 L1397.0,1305.7 L1399.7,1311.7 L1402.4,1233.8 L1405.0,1266.8 L1407.7,1320.7 L1410.4,1280.2 L1413.1,1335.7 L1415.8,1260.0 L1418.4,1314.6 L1421.1,1212.2 L1423.8,1316.0 L1426.5,1332.0 L1429.2,1129.5 L1431.8,1325.3 L1434.5,1274.9 L1437.2,1287.7 L1439.9,1273.3 L1442.6,1314.0 L1445.2,1338.0 L1447.9,1236.2 L1450.6,1327.8 L1453.3,1273.4 L1456.0,1212.2 L1458.6,1327.7 L1461.3,1297.2 L1464.0,1311.7 L1466.7,1250.0 L1469.4,1324.8 L1472.0,1266.1 L1474.7,1342.8 L1477.4,1330.0" stroke="#ff7f0e"/>
</g>
<rect x="637.8" y="820.6" width="879.9000000000001" height="572.6" fill="none" stroke="#000" stroke-width="2.2" stroke-linejoin="miter"/>
<line x1="677.2" y1="1393.2" x2="677.2" y2="1403.2" stroke="#000" stroke-width="2.1"/>
<text transform="translate(678.40,1433.40) scale(0.86,1)" x="0" y="0" font-family="'DejaVu Sans', 'Liberation Sans', sans-serif" font-size="27.5" text-anchor="middle">0</text>
<line x1="811.2" y1="1393.2" x2="811.2" y2="1403.2" stroke="#000" stroke-width="2.1"/>
<text transform="translate(812.42,1433.40) scale(0.86,1)" x="0" y="0" font-family="'DejaVu Sans', 'Liberation Sans', sans-serif" font-size="27.5" text-anchor="middle">50</text>
<line x1="945.2" y1="1393.2" x2="945.2" y2="1403.2" stroke="#000" stroke-width="2.1"/>
<text transform="translate(946.43,1433.40) scale(0.86,1)" x="0" y="0" font-family="'DejaVu Sans', 'Liberation Sans', sans-serif" font-size="27.5" text-anchor="middle">100</text>
<line x1="1079.2" y1="1393.2" x2="1079.2" y2="1403.2" stroke="#000" stroke-width="2.1"/>
<text transform="translate(1080.44,1433.40) scale(0.86,1)" x="0" y="0" font-family="'DejaVu Sans', 'Liberation Sans', sans-serif" font-size="27.5" text-anchor="middle">150</text>
<line x1="1213.3" y1="1393.2" x2="1213.3" y2="1403.2" stroke="#000" stroke-width="2.1"/>
<text transform="translate(1214.46,1433.40) scale(0.86,1)" x="0" y="0" font-family="'DejaVu Sans', 'Liberation Sans', sans-serif" font-size="27.5" text-anchor="middle">200</text>
<line x1="1347.3" y1="1393.2" x2="1347.3" y2="1403.2" stroke="#000" stroke-width="2.1"/>
<text transform="translate(1348.48,1433.40) scale(0.86,1)" x="0" y="0" font-family="'DejaVu Sans', 'Liberation Sans', sans-serif" font-size="27.5" text-anchor="middle">250</text>
<line x1="1481.3" y1="1393.2" x2="1481.3" y2="1403.2" stroke="#000" stroke-width="2.1"/>
<text transform="translate(1482.49,1433.40) scale(0.86,1)" x="0" y="0" font-family="'DejaVu Sans', 'Liberation Sans', sans-serif" font-size="27.5" text-anchor="middle">300</text>
<line x1="637.8" y1="1386.8" x2="631.8" y2="1386.8" stroke="#000" stroke-width="1.6"/>
<line x1="637.8" y1="1369.8" x2="631.8" y2="1369.8" stroke="#000" stroke-width="1.6"/>
<line x1="637.8" y1="1355.0" x2="631.8" y2="1355.0" stroke="#000" stroke-width="1.6"/>
<line x1="637.8" y1="1342.0" x2="631.8" y2="1342.0" stroke="#000" stroke-width="1.6"/>
<line x1="637.8" y1="1330.3" x2="627.8" y2="1330.3" stroke="#000" stroke-width="2.1"/>
<text transform="translate(555.50,1340.60) scale(0.868,1)" x="0" y="0" font-family="'DejaVu Sans', 'Liberation Sans', sans-serif" font-size="26.3">10</text>
<text transform="translate(587.50,1330.10) scale(0.87,1)" x="0" y="0" font-family="'DejaVu Sans', 'Liberation Sans', sans-serif" font-size="17.5">−</text>
<text transform="translate(602.10,1331.80) scale(1.05,1)" x="0" y="0" font-family="'DejaVu Sans', 'Liberation Sans', sans-serif" font-size="17.5">4</text>
<line x1="637.8" y1="1253.6" x2="631.8" y2="1253.6" stroke="#000" stroke-width="1.6"/>
<line x1="637.8" y1="1208.7" x2="631.8" y2="1208.7" stroke="#000" stroke-width="1.6"/>
<line x1="637.8" y1="1176.8" x2="631.8" y2="1176.8" stroke="#000" stroke-width="1.6"/>
<line x1="637.8" y1="1152.1" x2="631.8" y2="1152.1" stroke="#000" stroke-width="1.6"/>
<line x1="637.8" y1="1131.9" x2="631.8" y2="1131.9" stroke="#000" stroke-width="1.6"/>
<line x1="637.8" y1="1114.9" x2="631.8" y2="1114.9" stroke="#000" stroke-width="1.6"/>
<line x1="637.8" y1="1100.1" x2="631.8" y2="1100.1" stroke="#000" stroke-width="1.6"/>
<line x1="637.8" y1="1087.1" x2="631.8" y2="1087.1" stroke="#000" stroke-width="1.6"/>
<line x1="637.8" y1="1075.4" x2="627.8" y2="1075.4" stroke="#000" stroke-width="2.1"/>
<text transform="translate(555.90,1088.80) scale(0.868,1)" x="0" y="0" font-family="'DejaVu Sans', 'Liberation Sans', sans-serif" font-size="26.3">10</text>
<text transform="translate(587.90,1078.30) scale(0.87,1)" x="0" y="0" font-family="'DejaVu Sans', 'Liberation Sans', sans-serif" font-size="17.5">−</text>
<text transform="translate(602.00,1080.00) scale(1.05,1)" x="0" y="0" font-family="'DejaVu Sans', 'Liberation Sans', sans-serif" font-size="17.5">3</text>
<line x1="637.8" y1="998.7" x2="631.8" y2="998.7" stroke="#000" stroke-width="1.6"/>
<line x1="637.8" y1="953.8" x2="631.8" y2="953.8" stroke="#000" stroke-width="1.6"/>
<line x1="637.8" y1="921.9" x2="631.8" y2="921.9" stroke="#000" stroke-width="1.6"/>
<line x1="637.8" y1="897.2" x2="631.8" y2="897.2" stroke="#000" stroke-width="1.6"/>
<line x1="637.8" y1="877.0" x2="631.8" y2="877.0" stroke="#000" stroke-width="1.6"/>
<line x1="637.8" y1="860.0" x2="631.8" y2="860.0" stroke="#000" stroke-width="1.6"/>
<line x1="637.8" y1="845.2" x2="631.8" y2="845.2" stroke="#000" stroke-width="1.6"/>
<line x1="637.8" y1="832.2" x2="631.8" y2="832.2" stroke="#000" stroke-width="1.6"/>
<line x1="637.8" y1="820.5" x2="627.8" y2="820.5" stroke="#000" stroke-width="2.1"/>
<text transform="translate(558.60,833.80) scale(0.868,1)" x="0" y="0" font-family="'DejaVu Sans', 'Liberation Sans', sans-serif" font-size="26.3">10</text>
<text transform="translate(590.60,823.30) scale(0.87,1)" x="0" y="0" font-family="'DejaVu Sans', 'Liberation Sans', sans-serif" font-size="17.5">−</text>
<text transform="translate(604.76,825.00) scale(1.05,1)" x="0" y="0" font-family="'DejaVu Sans', 'Liberation Sans', sans-serif" font-size="17.5">2</text>
<text x="1077.8" y="806.3" font-family="'DejaVu Sans', 'Liberation Sans', sans-serif" font-size="31.6" text-anchor="middle">Mean Squared Error</text>
<rect x="1257.6" y="833.6" width="246.9" height="87.0" rx="3.5" fill="#fff" fill-opacity="0.8" stroke="#ccc" stroke-width="2.1"/>
<line x1="1264.3" y1="855.9" x2="1321.9" y2="855.9" stroke="#1f77b4" stroke-width="4.3" stroke-opacity="0.85"/>
<text x="1340.6" y="866.6" font-family="'DejaVu Sans', 'Liberation Sans', sans-serif" font-size="26.3">training set</text>
<line x1="1264.3" y1="895.5" x2="1321.9" y2="895.5" stroke="#ff7f0e" stroke-width="4.3" stroke-opacity="0.85"/>
<text x="1340.6" y="906.2" font-family="'DejaVu Sans', 'Liberation Sans', sans-serif" font-size="26.3">test set</text>
<text x="1077.1" y="1490.8" font-family="'Liberation Sans', Arial, sans-serif" font-weight="bold" font-size="39.2" text-anchor="middle">(c)</text>
</svg>
</body></html>
